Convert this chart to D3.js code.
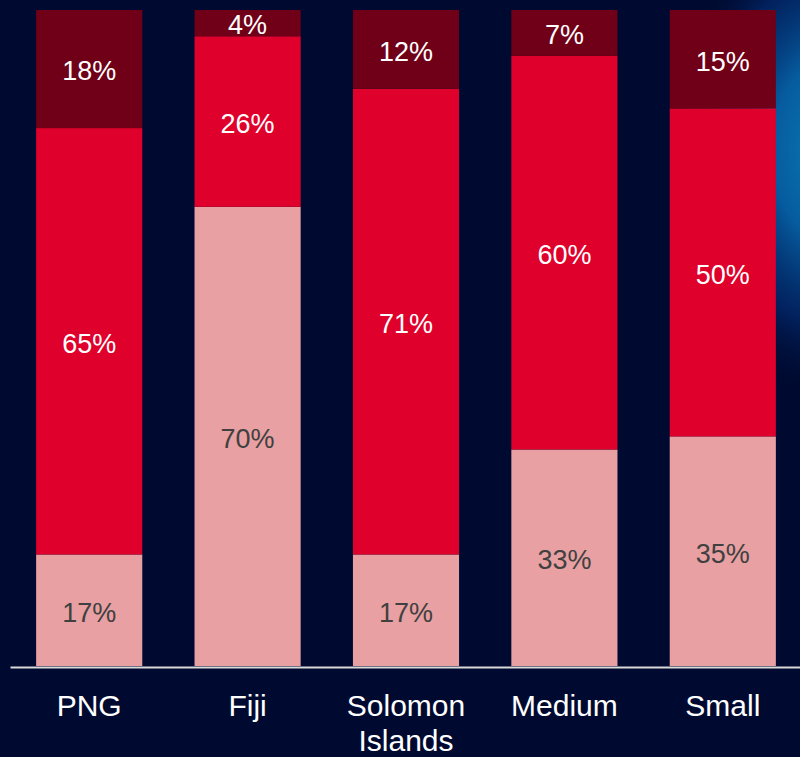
<!DOCTYPE html>
<html>
<head>
<meta charset="utf-8">
<script src="https://cdn.jsdelivr.net/npm/d3@7"></script>
<style>
    html, body { margin: 0; padding: 0; background: #000a30; }
    svg { display: block; }
</style>
</head>
<body>
<svg id="chart" width="800" height="757"></svg>
<script>
(() => {

    // chart data
    const categories = ['PNG', 'Fiji', 'Solomon Islands', 'Medium', 'Small'];
    const bottom_values = [17, 70, 17, 33, 35];
    const middle_values = [65, 26, 71, 60, 50];
    const top_values = [18, 4, 12, 7, 15];

    const series_keys = ['bottom', 'middle', 'top'];
    const seg_colors = ['#e8a0a3', '#df002b', '#700017'];
    const text_colors = ['#404040', '#ffffff', '#ffffff'];

    const width = 800;
    const height = 757;
    const plot_top = 10;
    const plot_bottom = 666;

    let svg = d3.select('#chart');

    // background with blue glow along the right edge
    let defs = svg.append('defs');
    let glow = defs.append('radialGradient')
        .attr('id', 'glow')
        .attr('gradientUnits', 'userSpaceOnUse')
        .attr('cx', 0).attr('cy', 0).attr('r', 1)
        .attr('gradientTransform', 'translate(825,150) scale(150,250)');
    glow.append('stop').attr('offset', '0%').attr('stop-color', '#0a7ab2').attr('stop-opacity', 1);
    glow.append('stop').attr('offset', '35%').attr('stop-color', '#0660a4').attr('stop-opacity', 0.95);
    glow.append('stop').attr('offset', '70%').attr('stop-color', '#03307a').attr('stop-opacity', 0.6);
    glow.append('stop').attr('offset', '100%').attr('stop-color', '#000a30').attr('stop-opacity', 0);

    svg.append('rect').attr('width', width).attr('height', height).attr('fill', '#000a30');
    svg.append('rect').attr('width', width).attr('height', height).attr('fill', 'url(#glow)');

    let rows = categories.map((c, i) => ({
        cat: c,
        bottom: bottom_values[i],
        middle: middle_values[i],
        top: top_values[i]
    }));

    let stacked = d3.stack().keys(series_keys)(rows);

    let x_scale = d3.scaleBand()
        .domain(categories)
        .range([10, 802])
        .paddingInner(0.33)
        .paddingOuter(0.165);

    let y_scale = d3.scaleLinear()
        .domain([0, 100])
        .range([plot_bottom, plot_top]);

    // bars
    let layers = svg.selectAll('.layer')
        .data(stacked)
        .enter()
        .append('g')
        .attr('class', 'layer')
        .attr('fill', (d, i) => seg_colors[i]);

    layers.selectAll('rect')
        .data((d) => d)
        .enter()
        .append('rect')
        .attr('x', (d) => x_scale(d.data.cat))
        .attr('y', (d) => y_scale(d[1]))
        .attr('width', x_scale.bandwidth())
        .attr('height', (d) => y_scale(d[0]) - y_scale(d[1]));

    // segment labels
    stacked.forEach((layer, li) => {
        svg.append('g')
            .selectAll('text')
            .data(layer)
            .enter()
            .append('text')
            .attr('x', (d) => x_scale(d.data.cat) + x_scale.bandwidth() / 2)
            .attr('y', (d) => (y_scale(d[0]) + y_scale(d[1])) / 2)
            .attr('dy', '0.42em')
            .attr('text-anchor', 'middle')
            .style('font-family', '"Liberation Sans", Arial, sans-serif')
            .style('font-size', '27px')
            .style('fill', text_colors[li])
            .text((d) => (d[1] - d[0]) + '%');
    });

    // x axis
    let x_axis = d3.axisBottom(x_scale).tickSize(0).tickSizeOuter(0);
    let axis_g = svg.append('g')
        .attr('transform', `translate(0, ${plot_bottom + 1})`)
        .call(x_axis);

    axis_g.select('.domain')
        .attr('stroke', '#d9d9d9')
        .attr('stroke-width', 2);

    axis_g.selectAll('.tick text').remove();

    axis_g.selectAll('.tick')
        .append('text')
        .attr('text-anchor', 'middle')
        .style('font-family', '"Liberation Sans", Arial, sans-serif')
        .style('font-size', '30px')
        .style('fill', '#ffffff')
        .each(function (d) {
            let words = d.split(' ');
            let t = d3.select(this);
            words.forEach((w, i) => {
                t.append('tspan')
                    .attr('x', 0)
                    .attr('y', 49 + i * 35)
                    .text(w);
            });
        });

})();
</script>
</body>
</html>
